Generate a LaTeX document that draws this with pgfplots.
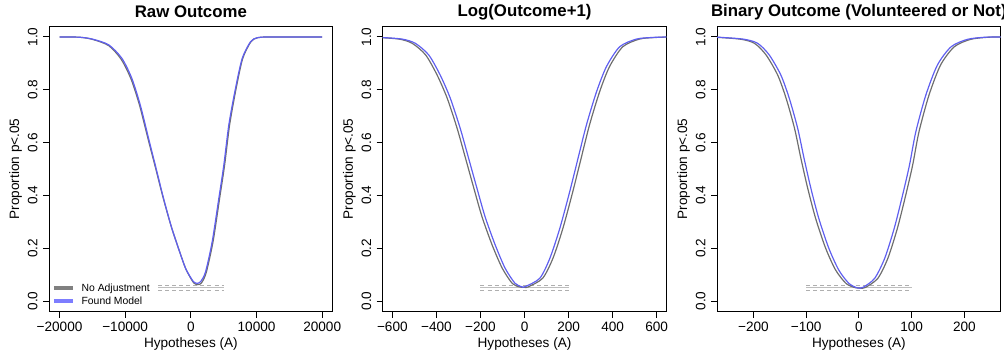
\documentclass[border=0pt]{standalone}
\usepackage{fontspec}
\setmainfont{Liberation Sans}
\usepackage{pgfplots}
\pgfplotsset{compat=1.18}
\definecolor{curvegray}{RGB}{110,110,110}
\definecolor{curveblue}{RGB}{95,95,240}
\definecolor{leggray}{RGB}{128,128,128}
\definecolor{legblue}{RGB}{125,125,255}
\definecolor{refsolid}{RGB}{190,190,190}
\definecolor{refdash}{RGB}{175,175,175}
\pgfplotsset{
  myaxis/.style={
    scale only axis, width=212.8pt, height=213.9pt,
    anchor=south west,
    ymin=-0.04, ymax=1.04,
    scaled x ticks=false, scaled y ticks=false,
    ytick={0,0.2,0.4,0.6,0.8,1}, yticklabels={0.0,0.2,0.4,0.6,0.8,1.0},
    tick align=outside, major tick length=4.5pt,
    xtick pos=left, ytick pos=left,
    axis line style={line width=0.75pt},
    every tick/.style={black, line width=0.75pt},
    tick label style={font=\fontsize{10.2}{12}\selectfont},
    xticklabel style={anchor=north, inner sep=0pt},
    yticklabel style={rotate=90, anchor=south, inner sep=0pt},
    xticklabel shift=3.4pt, yticklabel shift=3.9pt,
    xlabel={Hypotheses (A)}, ylabel={Proportion p<.05},
    every axis x label/.style={at={(axis description cs:0.5,0)}, anchor=center, yshift=-24.5pt, font=\fontsize{10.2}{12}\selectfont},
    every axis y label/.style={at={(axis description cs:0,0.5)}, xshift=-25pt, rotate=90, anchor=center, font=\fontsize{10.2}{12}\selectfont},
    every axis title/.style={at={(axis description cs:0.5,1)}, anchor=center, yshift=11pt, font=\bfseries\fontsize{12.6}{15}\selectfont},
  },
  gcurve/.style={curvegray, line width=0.9pt, forget plot, smooth, tension=0.45},
  bcurve/.style={curveblue, line width=0.9pt, forget plot, smooth, tension=0.45},
  refs/.style={refsolid, line width=0.75pt, forget plot},
  refd/.style={refdash, line width=0.75pt, dash pattern=on 3pt off 2.3pt, forget plot},
}
\begin{document}
\begin{tikzpicture}
% ---------------- Panel 1 ----------------
\begin{axis}[myaxis, at={(36.75pt,33.3pt)},
  title={Raw Outcome},
  xmin=-21600, xmax=21600,
  xtick={-20000,-10000,0,10000,20000},
  xticklabels={−20000,−10000,0,10000,20000},
  legend cell align=left,
  legend style={draw=none, fill=none, at={(axis description cs:0,0)}, anchor=south west,
    xshift=2pt, yshift=2.5pt, inner sep=0pt, row sep=0pt, column sep=3pt,
    font=\fontsize{7.8}{9}\selectfont,
    nodes={inner ysep=1.1pt, inner xsep=2pt, text height=6pt, text depth=1.6pt}},
  legend image code/.code={\draw[#1] (0pt,0pt) -- (14.25pt,0pt);},
]
\addlegendimage{leggray, line width=3pt}
\addlegendentry{No Adjustment}
\addlegendimage{legblue, line width=3pt}
\addlegendentry{Found Model}
\addplot[refs] coordinates {(-5000,0.05) (5000,0.05)};
\addplot[refd] coordinates {(-5000,0.04) (5000,0.04)};
\addplot[refd] coordinates {(-5000,0.06) (5000,0.06)};
\addplot[gcurve] coordinates {
(-20000,1.000) (-17000,0.999) (-15000,0.991) (-12500,0.967) (-10600,0.915)
(-9100,0.840) (-7800,0.740) (-6520,0.614) (-5480,0.514) (-4200,0.389)
(-2900,0.275) (-1340,0.160) (-760,0.121) (-200,0.094) (460,0.068) (1050,0.062)
(1600,0.068) (2330,0.107) (3370,0.224) (4380,0.389) (5140,0.515)
(5900,0.667) (6900,0.806) (7900,0.919) (9150,0.982) (10150,0.997)
(12000,1.000) (20000,1.000)};
\addplot[bcurve] coordinates {
(-20000,1.000) (-17000,0.999) (-15000,0.992) (-12500,0.970) (-10500,0.919)
(-9000,0.844) (-7700,0.742) (-6440,0.616) (-5420,0.515) (-4160,0.389)
(-2890,0.275) (-1370,0.162) (-810,0.124) (-250,0.098) (410,0.073) (970,0.067)
(1500,0.074) (2240,0.111) (3250,0.225) (4260,0.389) (5020,0.515)
(5780,0.667) (6800,0.806) (7820,0.919) (9090,0.982) (10100,0.997)
(12000,1.000) (20000,1.000)};
\end{axis}
% ---------------- Panel 2 ----------------
\begin{axis}[myaxis, at={(287.0pt,33.3pt)},
  title={Log(Outcome+1)},
  xmin=-644, xmax=644,
  xtick={-600,-400,-200,0,200,400,600},
  xticklabels={−600,−400,−200,0,200,400,600},
]
\addplot[refs] coordinates {(-200,0.05) (200,0.05)};
\addplot[refd] coordinates {(-200,0.04) (200,0.04)};
\addplot[refd] coordinates {(-200,0.06) (200,0.06)};
\addplot[gcurve] coordinates {
(-664,0.998) (-570,0.992) (-510,0.976) (-449,0.932) (-397,0.856)
(-351,0.768) (-306,0.654) (-268,0.541) (-230,0.427) (-193,0.319)
(-147,0.212) (-101,0.124) (-55,0.066) (-20,0.053) (0,0.052) (15,0.053)
(82,0.086) (129,0.162) (174,0.275) (219,0.414) (257,0.541) (295,0.667)
(341,0.793) (386,0.888) (446,0.963) (522,0.992) (594,0.998) (664,1.000)};
\addplot[bcurve] coordinates {
(-650,0.998) (-556,0.992) (-496,0.976) (-435,0.932) (-383,0.856)
(-337,0.768) (-292,0.654) (-254,0.541) (-216,0.427) (-179,0.319)
(-133,0.212) (-88,0.124) (-43,0.067) (-12,0.054) (1,0.054)
(69,0.086) (115,0.162) (160,0.275) (205,0.414) (243,0.541) (281,0.667)
(327,0.793) (372,0.888) (432,0.963) (508,0.992) (580,0.998) (650,1.000)};
\end{axis}
% ---------------- Panel 3 ----------------
\begin{axis}[myaxis, at={(537.75pt,33.3pt)},
  title={Binary Outcome (Volunteered or Not)},
  xmin=-269, xmax=269,
  xtick={-200,-100,0,100,200},
  xticklabels={−200,−100,0,100,200},
]
\addplot[refs] coordinates {(-100,0.05) (100,0.05)};
\addplot[refd] coordinates {(-100,0.04) (100,0.04)};
\addplot[refd] coordinates {(-100,0.06) (100,0.06)};
\addplot[gcurve] coordinates {
(-281,1.000) (-226,0.992) (-198,0.976) (-176,0.932) (-154,0.856)
(-138,0.768) (-122,0.654) (-110,0.541) (-97,0.427) (-82,0.313)
(-63,0.200) (-44,0.117) (-24,0.066) (-6,0.050) (2,0.049) (12,0.051)
(36,0.086) (55,0.162) (73,0.275) (89,0.402) (102,0.515) (114,0.641)
(133,0.780) (155,0.894) (181,0.963) (212,0.991) (246,0.999) (281,1.000)};
\addplot[bcurve] coordinates {
(-275,1.000) (-220,0.992) (-192,0.976) (-170,0.932) (-148,0.856)
(-132,0.768) (-116,0.654) (-104,0.541) (-91,0.427) (-76,0.313)
(-57,0.200) (-38,0.117) (-19,0.067) (-3,0.050) (8,0.052)
(30,0.086) (49,0.162) (67,0.275) (83,0.402) (96,0.515) (108,0.641)
(127,0.780) (149,0.894) (175,0.963) (206,0.991) (240,0.999) (275,1.000)};
\end{axis}
\pgfresetboundingbox
\useasboundingbox (0,0) rectangle (753pt,267pt);
\end{tikzpicture}
\end{document}
